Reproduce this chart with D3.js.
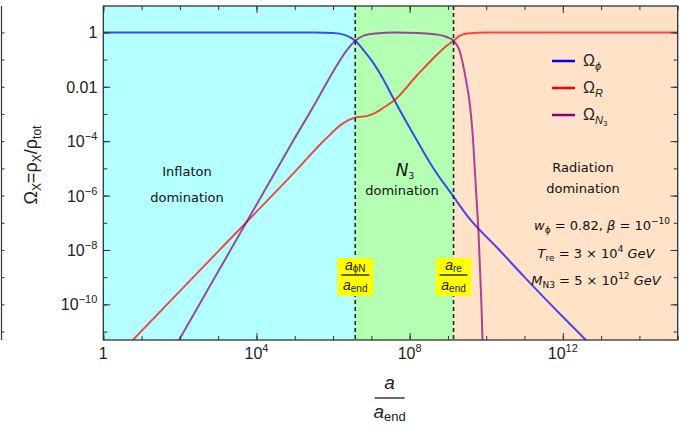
<!DOCTYPE html>
<html>
<head>
<meta charset="utf-8">
<script src="https://cdn.jsdelivr.net/npm/d3@7"></script>
<style>
  body { margin: 0; background: #fff; }
  svg text { font-family: "Liberation Sans", Arial, sans-serif; fill: #222; }
  .note { font-family: "DejaVu Sans", sans-serif; font-size: 13px; fill: #111; }
</style>
</head>
<body>
<div id="chart"></div>
<script>
const svgWidth = 688;
const svgHeight = 429;

// ---- data ----
const aPhiN = 3.8e6;   // a_phiN / a_end
const aRe = 1.4e9;     // a_re / a_end

const phiA     = [1, 3.2e5, 1e6, 2e6, 3.8e6, 6.3e6, 1.1e7, 2e7, 3.6e7, 1.5e8, 4e8, 1.4e9, 3.2e9, 2.2e10, 1e11, 8.1e11, 4e12, 1.6e13];
const phiOmega = [1, 0.99, 0.955, 0.81, 0.49, 0.22, 0.079, 0.02, 4.2e-3, 1.15e-4, 1.1e-5, 9.1e-7, 1.8e-7, 1e-8, 1e-9, 4.7e-11, 4.9e-12, 6.3e-13];

const radA     = [1, 5.9, 1e3, 1e5, 6e5, 1.8e6, 3.8e6, 7.9e6, 1.26e7, 2.2e7, 4e7, 1.5e8, 4.1e8, 1e9, 1.4e9, 2e9, 3.2e9, 1e10, 1e15];
const radOmega = [3.7e-13, 4.9e-12, 8.9e-9, 7.4e-6, 1.1e-4, 4.5e-4, 7.4e-4, 8.5e-4, 1.1e-3, 1.8e-3, 3.2e-3, 0.025, 0.11, 0.35, 0.49, 0.74, 0.91, 0.99, 1];

const n3A      = [32, 95, 1e3, 1e4, 1e5, 3.2e5, 1e6, 2e6, 3.8e6, 6.3e6, 1.26e7, 4e7, 1.6e8, 4e8, 1e9, 1.4e9, 2e9, 3e9, 3.7e9, 4.5e9, 5.2e9, 6.3e9, 7.4e9, 8.3e9];
const n3Omega  = [3.2e-13, 4.9e-12, 1.6e-9, 4.6e-7, 1.3e-4, 2.1e-3, 0.036, 0.17, 0.49, 0.76, 0.91, 0.98, 0.955, 0.87, 0.65, 0.49, 0.22, 0.016, 2.5e-3, 1.3e-4, 4e-6, 4e-8, 1.6e-10, 1e-12];

const xMajor = [1, 1e4, 1e8, 1e12];
const xMajorExp = [null, 4, 8, 12];
const xMinor = d3.range(0, 16).map(k => Math.pow(10, k));
const yMajor = [1, 1e-2, 1e-4, 1e-6, 1e-8, 1e-10];
const yMajorLabels = [['1', null], ['0.01', null], ['10', '\u22124'], ['10', '\u22126'], ['10', '\u22128'], ['10', '\u221210']];
const yMinor = d3.range(0, 12).map(k => Math.pow(10, -k));

const bands = [
  { from: 1, to: aPhiN, color: '#b4ffff' },
  { from: aPhiN, to: aRe, color: '#b4ffb4' },
  { from: aRe, to: 1e15, color: '#ffe2c8' }
];

const series = [
  { name: 'phi', sub: '\u03d5', a: phiA, omega: phiOmega, color: '#0000ff' },
  { name: 'R', sub: 'R', a: radA, omega: radOmega, color: '#ff0000' },
  { name: 'N3', sub: 'N', sub2: '3', a: n3A, omega: n3Omega, color: '#800080' }
];

// ---- layout ----
let margin = { top: 6, right: 10.3, bottom: 89, left: 103.3 };
let width = svgWidth - margin.left - margin.right;
let height = svgHeight - margin.top - margin.bottom;

let svg = d3.select('#chart')
  .append('svg')
  .attr('width', svgWidth)
  .attr('height', svgHeight);

let x = d3.scaleLog().domain([1, 1e15]).range([0, width]);
let y = d3.scaleLog().domain([Math.pow(10, -11.31), Math.pow(10, 0.97)]).range([height, 0]);

// stray frame of the neighbouring panel at the far left
let stray = svg.append('g').attr('transform', `translate(1.5,${margin.top})`);
stray.append('line').attr('y1', 0).attr('y2', height).attr('stroke', '#333').attr('stroke-width', 1.2);
stray.call(d3.axisRight(y).tickValues(yMinor).tickSize(3).tickFormat(''))
  .call(g => g.select('.domain').remove())
  .call(g => g.selectAll('line').attr('stroke', '#333'));

let chart = svg.append('g').attr('transform', `translate(${margin.left},${margin.top})`);

chart.append('clipPath').attr('id', 'clip')
  .append('rect').attr('width', width).attr('height', height);

chart.selectAll('.band')
  .data(bands)
  .enter()
  .append('rect')
  .attr('x', d => x(d.from))
  .attr('width', d => x(d.to) - x(d.from))
  .attr('y', 0)
  .attr('height', height)
  .attr('fill', d => d.color);

// curves
let line = d3.line()
  .x(d => x(d[0]))
  .y(d => y(d[1]))
  .curve(d3.curveMonotoneX);

chart.append('g').attr('clip-path', 'url(#clip)')
  .selectAll('path')
  .data(series)
  .enter()
  .append('path')
  .attr('d', s => line(d3.zip(s.a, s.omega)))
  .attr('fill', 'none')
  .attr('stroke', s => s.color)
  .attr('stroke-opacity', 0.7)
  .attr('stroke-width', 2);

// dashed separators
chart.selectAll('.sep')
  .data([aPhiN, aRe])
  .enter()
  .append('line')
  .attr('x1', d => x(d)).attr('x2', d => x(d))
  .attr('y1', 0).attr('y2', height)
  .attr('stroke', '#1a2a1a')
  .attr('stroke-width', 1.6)
  .attr('stroke-dasharray', '4,3');

// axes: inward ticks on all four sides
function styleAxis(g) {
  g.select('.domain').remove();
  g.selectAll('line').attr('stroke', '#333');
}
chart.append('g').attr('transform', `translate(0,${height})`)
  .call(d3.axisBottom(x).tickValues(xMinor).tickSizeInner(-4).tickSizeOuter(0).tickFormat('')).call(styleAxis);
chart.append('g').attr('transform', `translate(0,${height})`)
  .call(d3.axisBottom(x).tickValues(xMajor).tickSizeInner(-7).tickSizeOuter(0).tickFormat('')).call(styleAxis);
chart.append('g')
  .call(d3.axisTop(x).tickValues(xMinor).tickSizeInner(-4).tickSizeOuter(0).tickFormat('')).call(styleAxis);
chart.append('g')
  .call(d3.axisTop(x).tickValues(xMajor).tickSizeInner(-7).tickSizeOuter(0).tickFormat('')).call(styleAxis);
chart.append('g')
  .call(d3.axisLeft(y).tickValues(yMinor).tickSizeInner(-4).tickSizeOuter(0).tickFormat('')).call(styleAxis);
chart.append('g')
  .call(d3.axisLeft(y).tickValues(yMajor).tickSizeInner(-7).tickSizeOuter(0).tickFormat('')).call(styleAxis);
chart.append('g').attr('transform', `translate(${width},0)`)
  .call(d3.axisRight(y).tickValues(yMinor).tickSizeInner(-4).tickSizeOuter(0).tickFormat('')).call(styleAxis);
chart.append('g').attr('transform', `translate(${width},0)`)
  .call(d3.axisRight(y).tickValues(yMajor).tickSizeInner(-7).tickSizeOuter(0).tickFormat('')).call(styleAxis);

chart.append('rect')
  .attr('width', width).attr('height', height)
  .attr('fill', 'none').attr('stroke', '#333').attr('stroke-width', 1.3);

// tick labels
let xl = chart.append('g').selectAll('text')
  .data(xMajor)
  .enter()
  .append('text')
  .attr('x', d => x(d))
  .attr('y', height + 19)
  .attr('text-anchor', 'middle')
  .style('font-size', '16px');
xl.append('tspan').text((d, i) => xMajorExp[i] === null ? '1' : '10');
xl.filter((d, i) => xMajorExp[i] !== null)
  .append('tspan').attr('dy', -7).style('font-size', '11px')
  .text(d => Math.round(Math.log10(d)));

let yl = chart.append('g').selectAll('text')
  .data(yMajor)
  .enter()
  .append('text')
  .attr('x', -6)
  .attr('y', d => y(d) + 6)
  .attr('text-anchor', 'end')
  .style('font-size', '16px');
yl.each(function(d, i) {
  let t = d3.select(this);
  let lab = yMajorLabels[i];
  t.append('tspan').text(lab[0]);
  if (lab[1]) t.append('tspan').attr('dy', -7).style('font-size', '11px').text(lab[1]);
});

// axis titles
let yTitle = svg.append('text')
  .attr('transform', `translate(37,165)rotate(-90)`)
  .attr('text-anchor', 'middle')
  .style('font-size', '18px');
yTitle.append('tspan').text('\u03a9');
yTitle.append('tspan').attr('dy', 4).style('font-size', '12px').text('X');
yTitle.append('tspan').attr('dy', -4).text('=\u03c1');
yTitle.append('tspan').attr('dy', 4).style('font-size', '12px').text('X');
yTitle.append('tspan').attr('dy', -4).text('/\u03c1');
yTitle.append('tspan').attr('dy', 4).style('font-size', '12px').text('tot');

let xCenter = margin.left + x(3e7);
svg.append('text').attr('x', xCenter).attr('y', 389).attr('text-anchor', 'middle')
  .style('font-size', '19px').style('font-style', 'italic').text('a');
svg.append('line').attr('x1', xCenter - 15).attr('x2', xCenter + 15)
  .attr('y1', 398).attr('y2', 398).attr('stroke', '#444').attr('stroke-width', 1.6);
let xDen = svg.append('text').attr('x', xCenter).attr('y', 418).attr('text-anchor', 'middle')
  .style('font-size', '19px');
xDen.append('tspan').style('font-style', 'italic').text('a');
xDen.append('tspan').attr('dy', 3).style('font-size', '13px').text('end');

// yellow fraction labels
function fracLabel(ax, num) {
  let cx = margin.left + x(ax);
  let g = svg.append('g');
  g.append('rect').attr('x', cx - 18).attr('y', 258).attr('width', 36).attr('height', 38).attr('fill', '#ffff00');
  let n = g.append('text').attr('x', cx).attr('y', 270).attr('text-anchor', 'middle').style('font-size', '14px');
  n.append('tspan').style('font-style', 'italic').text('a');
  n.append('tspan').attr('dy', 2).style('font-size', '10px').text(num);
  g.append('line').attr('x1', cx - 14).attr('x2', cx + 14).attr('y1', 275).attr('y2', 275)
    .attr('stroke', '#111').attr('stroke-width', 1.3);
  let dd = g.append('text').attr('x', cx).attr('y', 290).attr('text-anchor', 'middle').style('font-size', '14px');
  dd.append('tspan').style('font-style', 'italic').text('a');
  dd.append('tspan').attr('dy', 2).style('font-size', '10px').text('end');
}
fracLabel(aPhiN, '\u03d5N');
fracLabel(aRe, 're');

// region notes
function note(cx, yy, parts, size) {
  let t = svg.append('text').attr('class', 'note').attr('x', cx).attr('y', yy)
    .attr('text-anchor', 'middle').style('font-size', (size || 13) + 'px');
  parts.forEach(p => {
    let s = t.append('tspan').text(p.t);
    if (p.sub) s.attr('dy', 3).style('font-size', '9px');
    if (p.sup) s.attr('dy', -6).style('font-size', '9px');
    if (p.back) s.attr('dy', p.back);
    if (p.it) s.style('font-style', 'italic');
  });
  return t;
}
note(187, 176, [{ t: 'Inflaton' }]);
note(187, 202, [{ t: 'domination' }]);
note(405, 176, [{ t: 'N', it: true }, { t: '3', sub: true }], 17);
note(402, 195, [{ t: 'domination' }]);
note(583, 172, [{ t: 'Radiation' }]);
note(583, 193, [{ t: 'domination' }]);
note(602, 230, [{ t: 'w', it: true }, { t: '\u03d5', sub: true }, { t: ' = 0.82, ', back: -3 }, { t: '\u03b2', it: true }, { t: ' = 10' }, { t: '\u221210', sup: true }]);
note(596, 258, [{ t: 'T', it: true }, { t: 're', sub: true }, { t: ' = 3 \u00d7 10', back: -3 }, { t: '4', sup: true }, { t: ' GeV', it: true, back: 6 }]);
note(596, 285, [{ t: 'M', it: true }, { t: 'N3', sub: true }, { t: ' = 5 \u00d7 10', back: -3 }, { t: '12', sup: true }, { t: ' GeV', it: true, back: 6 }]);

// legend
let legend = svg.append('g').selectAll('g')
  .data(series)
  .enter()
  .append('g')
  .attr('transform', (d, i) => `translate(552,${61 + i * 27})`);
legend.append('line').attr('x1', 0).attr('x2', 23)
  .attr('stroke', d => d.color).attr('stroke-width', 2.5);
let lt = legend.append('text').attr('x', 31).attr('y', 5).style('font-size', '16px');
lt.append('tspan').text('\u03a9');
lt.append('tspan').attr('dy', 4).style('font-size', '11px').style('font-style', 'italic').text(d => d.sub);
lt.filter(d => d.sub2).append('tspan').attr('dy', 2).style('font-size', '8px').text(d => d.sub2);
</script>
</body>
</html>
